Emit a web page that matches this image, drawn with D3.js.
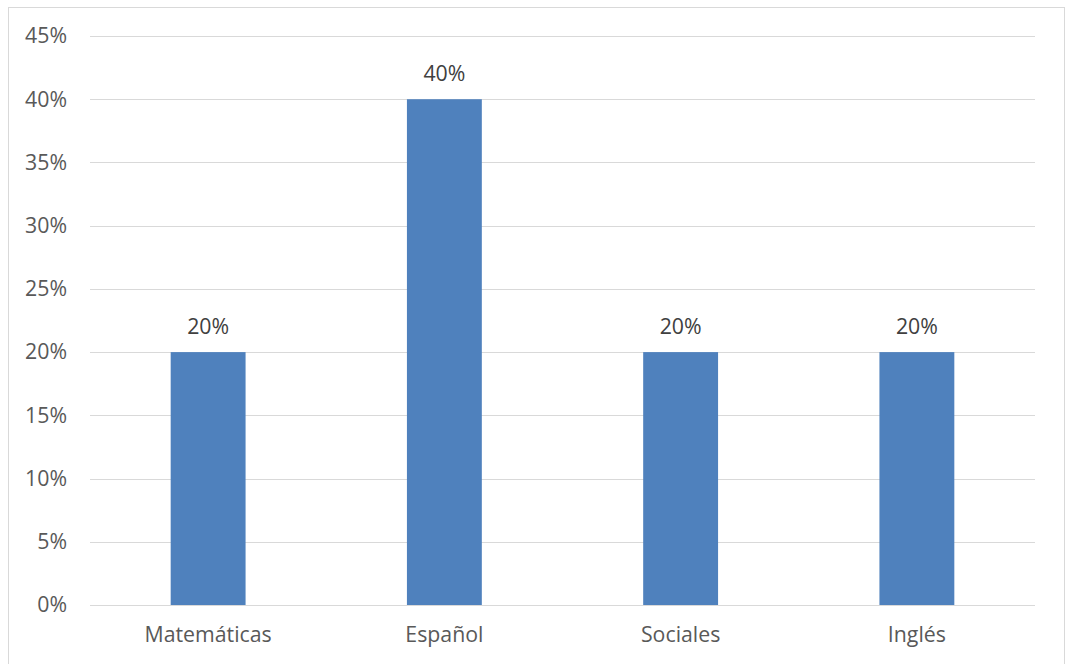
<!DOCTYPE html>
<html><head><meta charset="utf-8">
<script src="https://cdn.jsdelivr.net/npm/d3@7"></script>
<style>body{margin:0;background:#fff}svg{display:block}</style>
</head><body>
<svg id="c" width="1072" height="664"></svg>
<script>
const categories = ["Matemáticas", "Español", "Sociales", "Inglés"];
const values = [0.20, 0.40, 0.20, 0.20];
const yTicks = [0, 0.05, 0.10, 0.15, 0.20, 0.25, 0.30, 0.35, 0.40, 0.45];

const svg = d3.select("#c");
const font = "'Open Sans', sans-serif";
const fs = 21.3;
svg.append("rect").attr("x", 8.5).attr("y", 7.5).attr("width", 1056).attr("height", 670)
  .attr("fill", "#fff").attr("stroke", "#d9d9d9").attr("stroke-width", 1);

const L = 90, R = 1035, T = 36, B = 605;
const x = d3.scaleBand().domain(categories).range([L, R]).paddingInner(0.683).paddingOuter(0.3415);
const y = d3.scaleLinear().domain([0, 0.45]).range([B, T]);

const g = svg.append("g");
g.selectAll(".grid").data(yTicks).enter().append("line")
  .attr("x1", L).attr("x2", R)
  .attr("y1", d => Math.round(y(d)) + 0.5).attr("y2", d => Math.round(y(d)) + 0.5)
  .attr("stroke", "#d9d9d9").attr("stroke-width", 1);

const yAxis = d3.axisLeft(y).tickValues(yTicks).tickFormat(d3.format(".0%")).tickSize(0).tickPadding(23);
const ya = svg.append("g").attr("transform", `translate(${L},0)`).call(yAxis);
ya.select(".domain").remove();
ya.selectAll("text").attr("font-family", font).attr("font-size", fs).attr("fill", "#595959");

g.selectAll(".bar").data(values).enter().append("rect")
  .attr("x", (d, i) => x(categories[i]))
  .attr("width", x.bandwidth())
  .attr("y", d => y(d))
  .attr("height", d => y(0) - y(d))
  .attr("fill", "#4f81bd");

g.selectAll(".lbl").data(values).enter().append("text")
  .attr("x", (d, i) => x(categories[i]) + x.bandwidth() / 2)
  .attr("y", d => y(d) - 18)
  .attr("text-anchor", "middle")
  .attr("font-family", font).attr("font-size", fs).attr("fill", "#404040")
  .text(d => d3.format(".0%")(d));

g.append("line").attr("x1", L).attr("x2", R).attr("y1", B + 0.5).attr("y2", B + 0.5)
  .attr("stroke", "#d9d9d9").attr("stroke-width", 1);

const xAxis = d3.axisBottom(x).tickSize(0).tickPadding(22);
const xa = svg.append("g").attr("transform", `translate(0,${B})`).call(xAxis);
xa.select(".domain").remove();
xa.selectAll("text").attr("font-family", font).attr("font-size", fs).attr("fill", "#595959");
</script>
</body></html>
